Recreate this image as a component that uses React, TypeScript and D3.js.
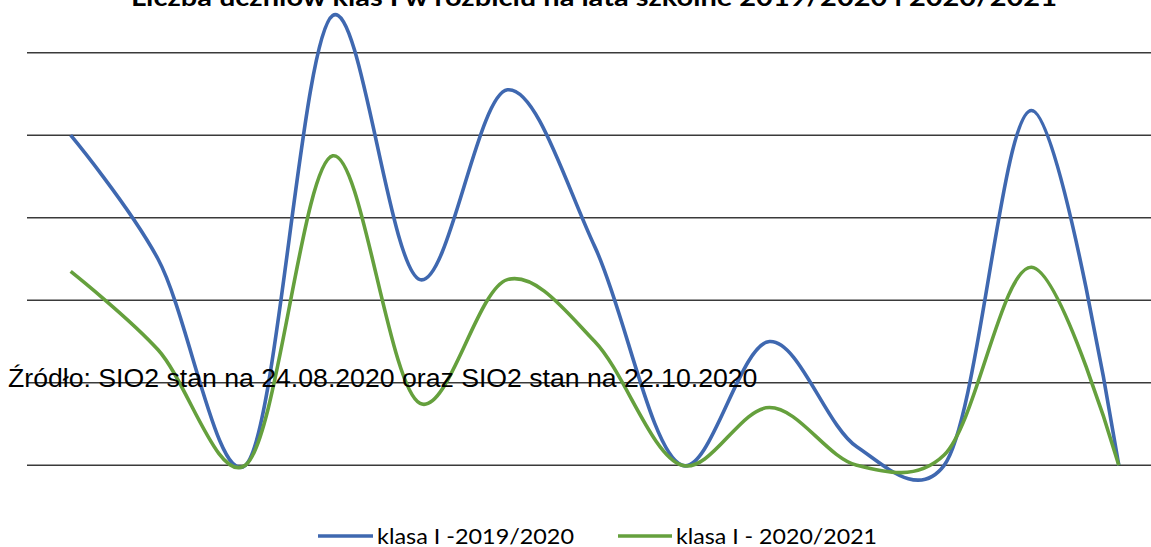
import React from "react";
import * as d3 from "d3";

const categories = ["1", "2", "3", "4", "5", "6", "7", "8", "9", "10", "11", "12", "13"];
const series2019 = [80, 50, 0, 109, 45, 91, 53, 0, 30, 4.5, 0, 86, 0];
const series2020 = [47, 28, 0, 75, 15, 45, 30, 0, 14, 0, 2.5, 48, 0];
const yTicks = [0, 20, 40, 60, 80, 100];
const seriesNames = ["klasa I -2019/2020", "klasa I - 2020/2021"];
const seriesColors = ["#3F68B0", "#65A03D"];

const W = 1151;
const H = 547;

export default function App() {
  const x = d3
    .scaleBand<string>()
    .domain(categories)
    .range([27, 1162.5]);
  const y = d3.scaleLinear().domain([0, 100]).range([465.3, 52.7]);
  const cx = (c: string) => (x(c) as number) + x.bandwidth() / 2;

  const line = d3
    .line<number>()
    .x((_, i) => cx(categories[i]))
    .y((d) => y(d))
    .curve(d3.curveCatmullRom.alpha(0.2));

  const all = [series2019, series2020];

  return (
    <div style={{ position: "absolute", left: 0, top: 0 }}>
      <svg width={W} height={H} style={{ display: "block", background: "#fff" }}>
        <text
          x={594}
          y={6}
          textAnchor="middle"
          fontFamily="Lato, 'Open Sans', sans-serif"
          fontWeight="bold"
          fontSize={25}
          fill="#000"
          textLength={926}
          lengthAdjust="spacingAndGlyphs"
        >
          Liczba uczniów klas I w rozbiciu na lata szkolne 2019/2020 i 2020/2021
        </text>
        {yTicks.map((t) => (
          <line
            key={t}
            x1={27}
            x2={W}
            y1={y(t)}
            y2={y(t)}
            stroke="#3a3a3a"
            strokeWidth={1.4}
          />
        ))}
        {all.map((s, i) => (
          <path
            key={i}
            d={line(s) || ""}
            fill="none"
            stroke={seriesColors[i]}
            strokeWidth={3.6}
            strokeLinejoin="round"
          />
        ))}
        <text
          x={8}
          y={387}
          fontFamily="'Liberation Sans', Arial, sans-serif"
          fontSize={26.65}
          fill="#000"
        >
          Źródło: SIO2 stan na 24.08.2020 oraz SIO2 stan na 22.10.2020
        </text>
        {/* legend */}
        <line x1={318} x2={373} y1={536} y2={536} stroke={seriesColors[0]} strokeWidth={3.6} />
        <text
          x={377}
          y={544}
          fontFamily="Lato, 'Open Sans', sans-serif"
          fontSize={21}
          fill="#000"
          textLength={197}
          lengthAdjust="spacingAndGlyphs"
        >
          {seriesNames[0]}
        </text>
        <line x1={618} x2={672} y1={536} y2={536} stroke={seriesColors[1]} strokeWidth={3.6} />
        <text
          x={676}
          y={544}
          fontFamily="Lato, 'Open Sans', sans-serif"
          fontSize={21}
          fill="#000"
          textLength={201}
          lengthAdjust="spacingAndGlyphs"
        >
          {seriesNames[1]}
        </text>
      </svg>
    </div>
  );
}
